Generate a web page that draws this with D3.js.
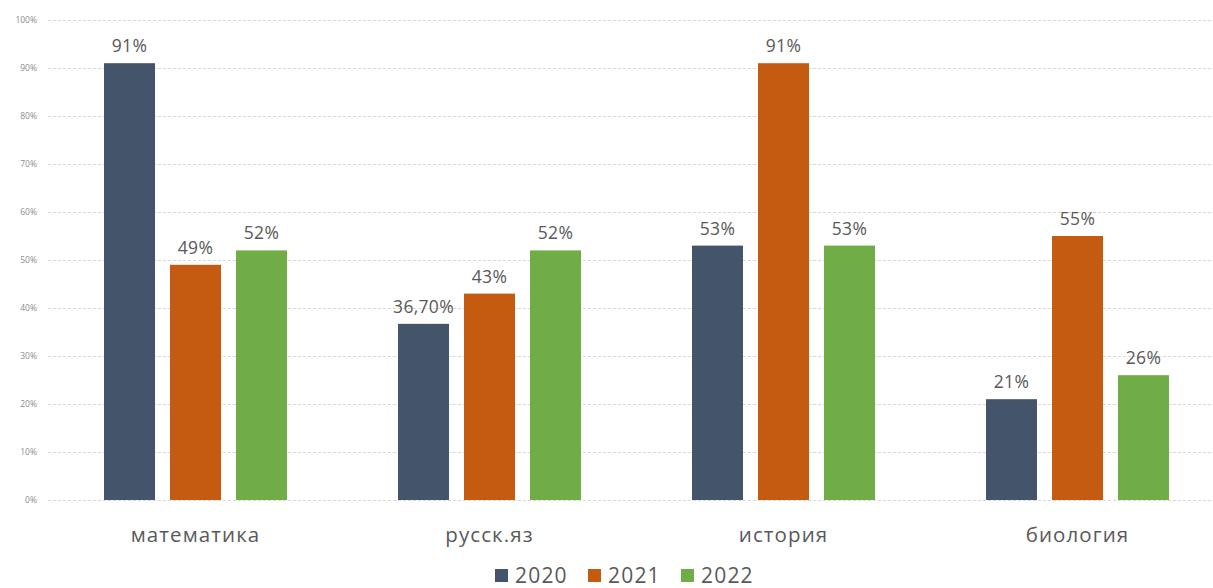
<!DOCTYPE html>
<html><head><meta charset="utf-8">
<script src="https://cdn.jsdelivr.net/npm/d3@7"></script>
<style>body{margin:0;background:#fff;} svg{display:block;font-family:"Open Sans","Noto Sans",sans-serif;}</style>
</head><body>
<svg id="c" width="1213" height="588"></svg>
<script>
const categories = ["математика","русск.яз","история","биология"];
const series = ["2020","2021","2022"];
const values2020 = [91, 36.7, 53, 21];
const values2021 = [49, 43, 91, 55];
const values2022 = [52, 52, 53, 26];
const labels2020 = ["91%","36,70%","53%","21%"];
const labels2021 = ["49%","43%","91%","55%"];
const labels2022 = ["52%","52%","53%","26%"];
const colors = ["#44546a","#c55a11","#70ad47"];
const yTicks = [0,10,20,30,40,50,60,70,80,90,100];

const vals = [values2020, values2021, values2022];
const labs = [labels2020, labels2021, labels2022];
const svg = d3.select("#c");
const x = d3.scaleBand().domain(categories).range([48.5, 1224.5]).paddingInner(0).paddingOuter(0);
const y = d3.scaleLinear().domain([0,100]).range([500, 20]);
const inner = d3.scaleBand().domain(series).range([55.5, 294-55.5]).paddingInner(15/66).paddingOuter(0);

// grid
svg.append("g").selectAll("line").data(yTicks).join("line")
  .attr("x1", 48).attr("x2", 1213)
  .attr("y1", d=>y(d)+0.5).attr("y2", d=>y(d)+0.5)
  .attr("stroke", "#d9d9d9").attr("stroke-width", 1).attr("stroke-dasharray", "3,2");
svg.append("g").selectAll("text").data(yTicks).join("text")
  .attr("x", 37).attr("y", d=>y(d)+3)
  .attr("text-anchor","end").attr("font-size", 8.5).attr("fill","#8c8c8c")
  .text(d=>d+"%");

series.forEach((s,i)=>{
  const g = svg.append("g");
  g.selectAll("rect").data(categories).join("rect")
    .attr("x", c=>x(c)+inner(s))
    .attr("width", inner.bandwidth())
    .attr("y", (c,j)=>y(vals[i][j]))
    .attr("height", (c,j)=>y(0)-y(vals[i][j]))
    .attr("fill", colors[i]);
  g.selectAll("text").data(categories).join("text")
    .attr("x", c=>x(c)+inner(s)+inner.bandwidth()/2)
    .attr("y", (c,j)=>y(vals[i][j])-11)
    .attr("text-anchor","middle").attr("font-size", 17.5).attr("letter-spacing", 0.3).attr("fill","#595959")
    .text((c,j)=>labs[i][j]);
});

svg.append("g").selectAll("text").data(categories).join("text")
  .attr("x", c=>x(c)+x.bandwidth()/2).attr("y", 542)
  .attr("text-anchor","middle").attr("font-size", 20.5).attr("letter-spacing", 1.1).attr("fill","#595959")
  .text(d=>d);

// legend
const lx = [495, 588, 681];
const lg = svg.append("g");
series.forEach((s,i)=>{
  lg.append("rect").attr("x", lx[i]).attr("y", 569).attr("width", 13).attr("height", 13).attr("fill", colors[i]);
  lg.append("text").attr("x", lx[i]+20).attr("y", 583).attr("font-size", 21).attr("letter-spacing", 1.2).attr("fill","#595959").text(s);
});
</script>
</body></html>
